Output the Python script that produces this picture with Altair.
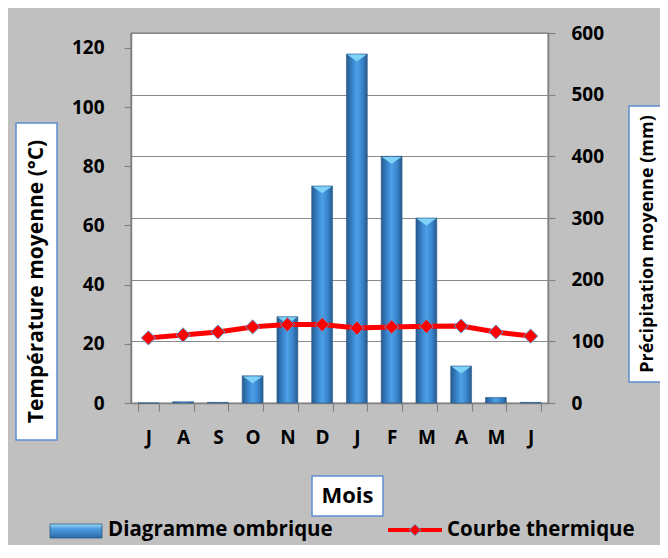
import altair as alt
import pandas as pd

months = ["J", "A", "S", "O", "N", "D", "J", "F", "M", "A", "M", "J"]
precip = [0, 2, 1, 44, 140, 352, 566, 400, 300, 60, 9, 1]
temp = [22, 23, 24, 25.7, 26.5, 26.5, 25.3, 25.7, 25.9, 26, 24, 22.6]
temp_ticks = [0, 20, 40, 60, 80, 100, 120]
precip_ticks = [0, 100, 200, 300, 400, 500, 600]

FONT = "Open Sans"
df = pd.DataFrame({"idx": list(range(len(months))), "month": months,
                   "precip": precip, "temp": temp})
one = pd.DataFrame({"a": [0]})

label_expr = "[" + ",".join("'%s'" % m for m in months) + "][datum.value]"

x_enc = alt.X("idx:O", scale=alt.Scale(paddingInner=0.4, paddingOuter=0.2),
              axis=alt.Axis(title=None, labelExpr=label_expr, labelAngle=0,
                            tickBand="extent", labelPadding=17, tickSize=8))

y_precip = alt.Y("precip:Q", scale=alt.Scale(domain=[0, 600], nice=False),
                 axis=alt.Axis(orient="right", values=precip_ticks, title=None,
                               grid=True, labelPadding=16, labelAlign="left"))
y_temp = alt.Y("temp:Q", scale=alt.Scale(domain=[0, 125], nice=False),
               axis=alt.Axis(orient="left", values=temp_ticks, title=None,
                             grid=False, labelPadding=20))

bar_grad = alt.Gradient(
    gradient="linear",
    stops=[alt.GradientStop(color="#275a8c", offset=0),
           alt.GradientStop(color="#3a86cf", offset=0.3),
           alt.GradientStop(color="#4da0e6", offset=0.5),
           alt.GradientStop(color="#3a86cf", offset=0.75),
           alt.GradientStop(color="#275a8c", offset=1)],
    x1=0, x2=1, y1=0, y2=0)

bars = alt.Chart(df).mark_bar(fill=bar_grad, stroke="#2a5a88", strokeWidth=0.6).encode(
    x=x_enc, y=y_precip)
caps = alt.Chart(df).transform_filter("datum.precip > 20").mark_point(
    shape="M-1,-0.35L1,-0.35L0,0.35Z", filled=True, fill="#7fd3f7", opacity=1,
    size=380, yOffset=4, strokeWidth=0).encode(x=x_enc, y=y_precip)
precip_layer = alt.layer(bars, caps)

line = alt.Chart(df).mark_line(color="#ff0000", strokeWidth=5).encode(x=x_enc, y=y_temp)
pts = alt.Chart(df).mark_point(shape="diamond", filled=True, fill="#ff0000",
                               stroke="#5b9bd5", strokeWidth=1, opacity=1,
                               size=200).encode(x=x_enc, y=y_temp)
temp_layer = alt.layer(line, pts)


def box(x1, x2, y1, y2):
    return alt.Chart(one).mark_rect(fill="white", stroke="#5b8fcf", strokeWidth=1.5).encode(
        x=alt.value(x1), x2=alt.value(x2), y=alt.value(y1), y2=alt.value(y2))


def label(txt, x, y, size, angle=0, align="center"):
    return alt.Chart(one).mark_text(text=txt, font=FONT, fontSize=size, fontWeight="bold",
                                    color="black", angle=angle, align=align,
                                    baseline="middle").encode(x=alt.value(x), y=alt.value(y))


swatch_grad = alt.Gradient(
    gradient="linear",
    stops=[alt.GradientStop(color="#9fdcf8", offset=0),
           alt.GradientStop(color="#4a9be0", offset=0.35),
           alt.GradientStop(color="#2c6aa6", offset=1)],
    x1=0, x2=0, y1=0, y2=1)

LEG_Y = 497
decor = [
    box(-115, -74, 90, 407),
    label("Température moyenne (°C)", -94.5, 248.5, 21, angle=270),
    box(498, 545, 73, 349),
    label("Précipitation moyenne (mm)", 517, 211, 18, angle=270),
    box(181, 252, 443, 483),
    label("Mois", 216.5, 463, 22),
    alt.Chart(one).mark_rect(fill=swatch_grad, stroke="#2a5a88", strokeWidth=0.8).encode(
        x=alt.value(-81), x2=alt.value(-29), y=alt.value(LEG_Y - 6), y2=alt.value(LEG_Y + 8)),
    label("Diagramme ombrique", -23, LEG_Y, 20.5, align="left"),
    alt.Chart(one).mark_rule(color="#ff0000", strokeWidth=4).encode(
        x=alt.value(257), x2=alt.value(311), y=alt.value(LEG_Y)),
    alt.Chart(one).mark_point(shape="diamond", filled=True, fill="#ff0000", stroke="#5b9bd5",
                              strokeWidth=1, opacity=1, size=130).encode(
        x=alt.value(284), y=alt.value(LEG_Y)),
    label("Courbe thermique", 316, LEG_Y, 20.5, align="left"),
]

chart = alt.layer(precip_layer, temp_layer, *decor).resolve_scale(y="independent").properties(
    width=417, height=370,
    padding={"left": 123, "top": 25, "right": 112, "bottom": 142},
    autosize=alt.AutoSizeParams(type="none"),
    background="#c0c0c0",
).configure_view(stroke="#3a3a3a", strokeWidth=1.2, fill="white").configure_axis(
    domainColor="#808080", domainWidth=1.5, tickColor="#808080", tickWidth=1.2,
    tickSize=7, gridColor="#8a8a8a", gridWidth=1,
    labelFont=FONT, labelFontSize=19, labelFontWeight="bold", labelColor="black",
)

chart.save("out.html", embed_options={"renderer": "svg", "actions": False})
